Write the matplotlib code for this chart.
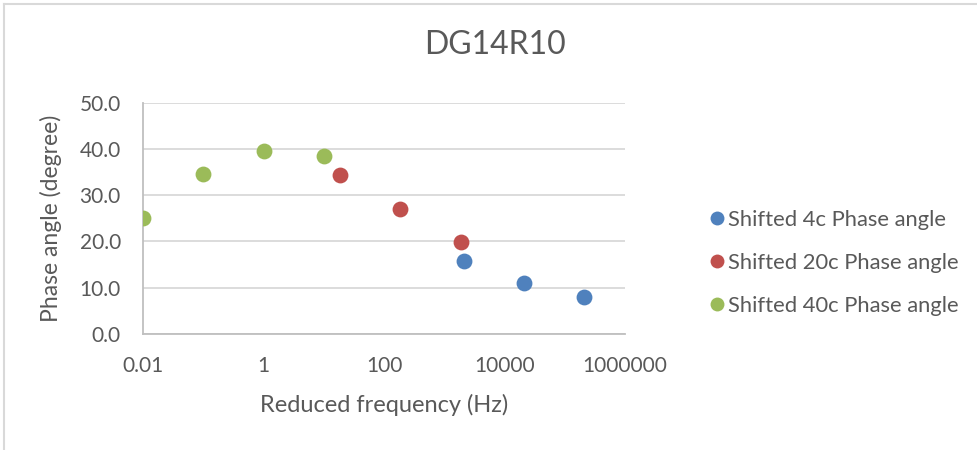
import matplotlib
matplotlib.use("Agg")
import matplotlib.pyplot as plt
from matplotlib.lines import Line2D
from matplotlib.ticker import FixedLocator, FixedFormatter, FormatStrFormatter

plt.rcParams['font.family'] = ['Lato', 'DejaVu Sans']

# Shifted master-curve data (reduced frequency in Hz, phase angle in degrees)
freq_4c = [2100, 21300, 212000]
phase_4c = [15.7, 11.1, 8.0]
freq_20c = [18.5, 186, 1890]
phase_20c = [34.4, 27.1, 19.9]
freq_40c = [0.01, 0.1, 1, 10]
phase_40c = [25.0, 34.6, 39.5, 38.5]

series_labels = ["Shifted 4c Phase angle", "Shifted 20c Phase angle", "Shifted 40c Phase angle"]
x_ticks = [0.01, 1, 100, 10000, 1000000]
x_tick_labels = ["0.01", "1", "100", "10000", "1000000"]

text_color = "#595959"
grid_color = "#D9D9D9"
axis_color = "#BFBFBF"
colors = ["#4F81BD", "#C0504D", "#9BBB59"]

fig = plt.figure(figsize=(9.77, 4.5), dpi=100)
ax = fig.add_axes([0.1464, 0.2578, 0.4933, 0.514])

for xs, ys, c, lab in zip([freq_4c, freq_20c, freq_40c],
                          [phase_4c, phase_20c, phase_40c],
                          colors, series_labels):
    ax.scatter(xs, ys, s=130, color=c, label=lab, zorder=3, linewidths=0)

ax.set_xscale("log")
ax.set_xlim(0.01, 1000000)
ax.set_ylim(0, 50)
ax.xaxis.set_major_locator(FixedLocator(x_ticks))
ax.xaxis.set_major_formatter(FixedFormatter(x_tick_labels))
ax.xaxis.set_minor_locator(FixedLocator([]))
ax.set_yticks([0, 10, 20, 30, 40, 50])
ax.yaxis.set_major_formatter(FormatStrFormatter("%.1f"))

ax.grid(axis="y", color=grid_color, linewidth=1.3, zorder=0)
ax.set_axisbelow(True)
for side in ["top", "right"]:
    ax.spines[side].set_visible(False)
for side in ["left", "bottom"]:
    ax.spines[side].set_color(axis_color)
    ax.spines[side].set_linewidth(1.3)

ax.tick_params(axis="both", length=0, labelsize=15, labelcolor=text_color)
ax.tick_params(axis="x", pad=16)
ax.tick_params(axis="y", pad=16)

ax.set_xlabel("Reduced frequency (Hz)", fontsize=17, color=text_color)
ax.set_ylabel("Phase angle (degree)", fontsize=16.5, color=text_color)
ax.xaxis.set_label_coords(0.5, -0.305)
ax.yaxis.set_label_coords(-0.192, 0.5)
ax.xaxis.label.set_va("center")
ax.yaxis.label.set_va("center")

fig.text(0.507, 0.9007, "DG14R10", fontsize=23, color=text_color, ha="center", va="center")

handles = [Line2D([], [], marker="o", linestyle="", markersize=10, color=c,
                  markeredgewidth=0) for c in colors]
leg = fig.legend(handles, series_labels, loc="center left",
                 bbox_to_anchor=(0.723, 0.4156), frameon=False, fontsize=15.8,
                 handletextpad=0.0, labelspacing=1.05, handlelength=1.0,
                 borderaxespad=0, borderpad=0, labelcolor=text_color)

# Chart-area border (top and left edges)
fig.add_artist(Line2D([0.004, 1.0], [0.9905, 0.9905], transform=fig.transFigure,
                      color=grid_color, linewidth=1.5))
fig.add_artist(Line2D([0.0045, 0.0045], [0.0, 0.9905], transform=fig.transFigure,
                      color=grid_color, linewidth=1.5))

fig.savefig("out.png", dpi=100, facecolor="white")
